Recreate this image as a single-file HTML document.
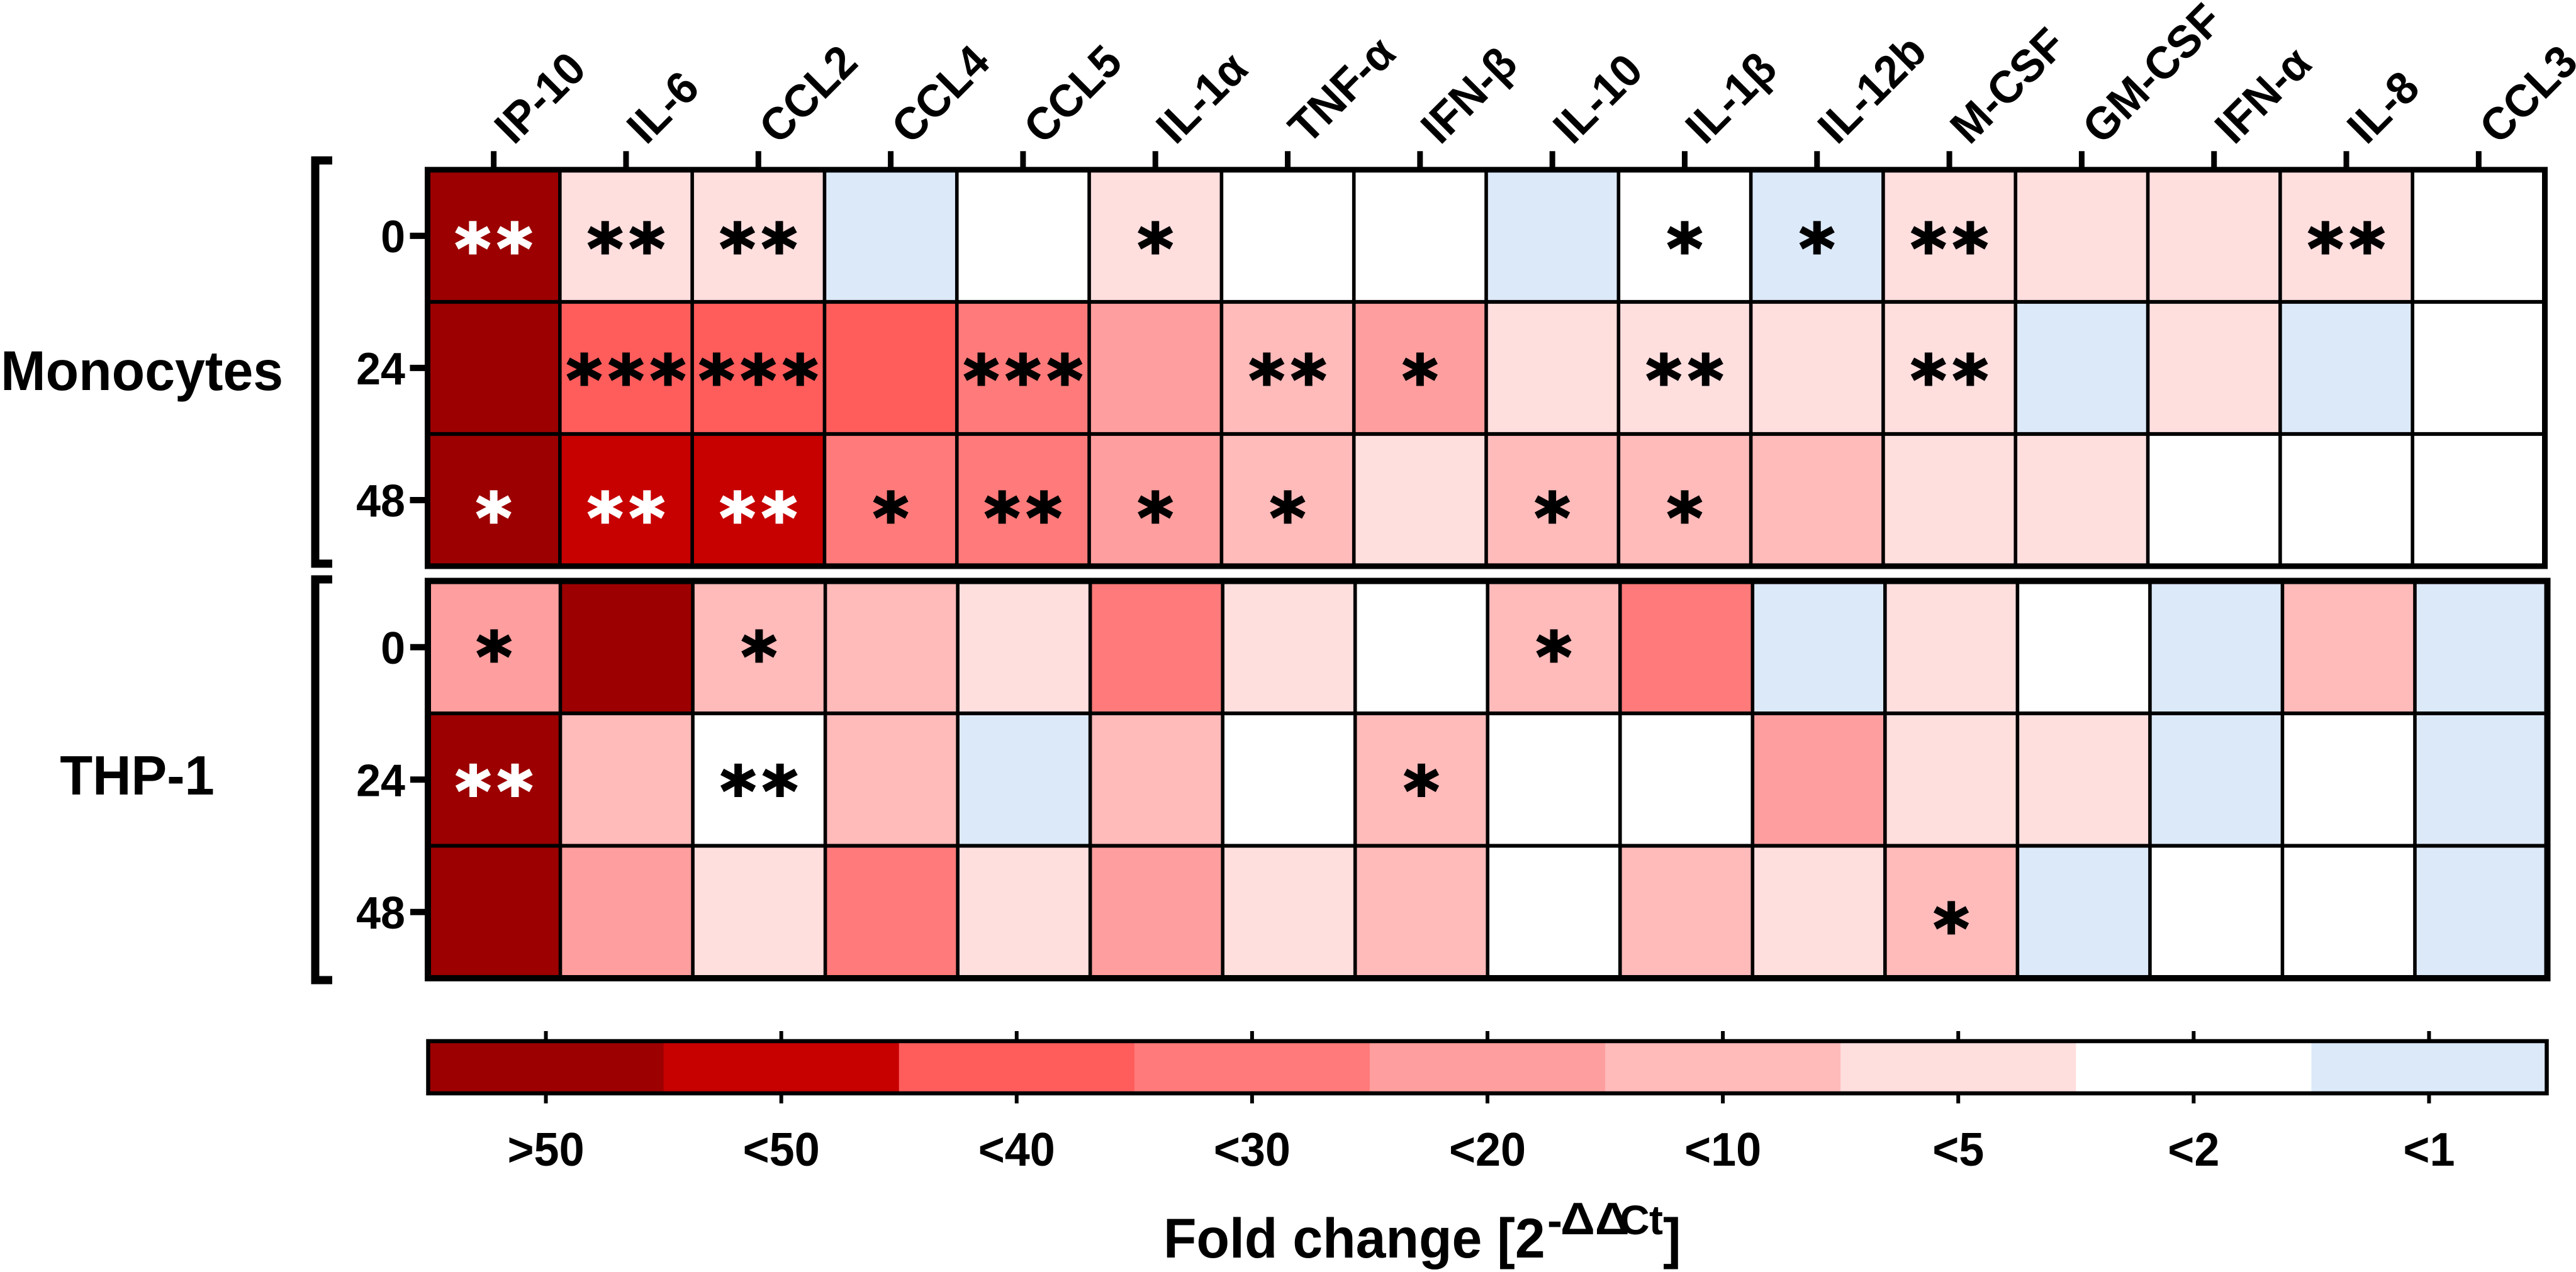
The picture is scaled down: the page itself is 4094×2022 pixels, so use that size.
<!DOCTYPE html>
<html>
<head>
<meta charset="utf-8">
<title>Fold change heatmap</title>
<style>
html,body{margin:0;padding:0;background:#fff;}
svg{display:block;}
text{font-family:"Liberation Sans",sans-serif;font-weight:bold;fill:#000;}
.star{font-family:"DejaVu Sans",sans-serif;font-weight:bold;stroke-width:3;letter-spacing:10px;}
</style>
</head>
<body>
<svg id="chart" xmlns="http://www.w3.org/2000/svg" width="4094" height="2022" viewBox="0 0 4094 2022">
  <rect x="0" y="0" width="4094" height="2022" fill="#ffffff"/>
  <text transform="translate(1 620) scale(1 1.04)" font-size="86">Monocytes</text>
  <text transform="translate(218 1263) scale(1 1.04)" font-size="85" text-anchor="middle">THP-1</text>
  <path d="M528 255H501V896H528" fill="none" stroke="#000" stroke-width="13"/>
  <path d="M528 921H501V1558H528" fill="none" stroke="#000" stroke-width="13"/>
  <g>
    <text transform="translate(1849 1999) scale(1 1.04)" font-size="86">Fold change [2</text>
    <text x="2459" y="1965" font-size="72">-</text>
    <text transform="translate(2480 1962) scale(1.06 1)" font-size="72">ΔΔ</text>
    <text x="2574" y="1962" font-size="66">C</text>
    <text x="2621" y="1962" font-size="66">t</text>
    <text transform="translate(2643 1999) scale(1 1.04)" font-size="86">]</text>
  </g>
  <g id="layer"></g>
</svg>
<script>
const genes = ["IP-10","IL-6","CCL2","CCL4","CCL5","IL-1α","TNF-α","IFN-β","IL-10","IL-1β","IL-12b","M-CSF","GM-CSF","IFN-α","IL-8","CCL3"];
const timepoints = ["0","24","48"];
const foldLabels = [">50","<50","<40","<30","<20","<10","<5","<2","<1"];
const foldColors = ["#9c0000","#c70000","#ff5c5c","#ff7a7a","#ff9e9e","#ffbaba","#ffdede","#ffffff","#dce9f9"];

const monocyteLevels = [
  [0,6,6,8,7,6,7,7,8,7,8,6,6,6,6,7],
  [0,2,2,2,3,4,5,4,6,6,6,6,8,6,8,7],
  [0,1,1,3,3,4,5,6,5,5,5,6,6,7,7,7]
];
const monocyteStars = [
  [2,2,2,0,0,1,0,0,0,1,1,2,0,0,2,0],
  [0,3,3,0,3,0,2,1,0,2,0,2,0,0,0,0],
  [1,2,2,1,2,1,1,0,1,1,0,0,0,0,0,0]
];
const thp1Levels = [
  [4,0,5,5,6,3,6,7,5,3,8,6,7,8,5,8],
  [0,5,7,5,8,5,7,5,7,7,4,6,6,8,7,8],
  [0,4,6,3,6,4,6,5,7,5,6,5,8,7,7,8]
];
const thp1Stars = [
  [1,0,1,0,0,0,0,0,1,0,0,0,0,0,0,0],
  [2,0,2,0,0,0,0,1,0,0,0,0,0,0,0,0],
  [0,0,0,0,0,0,0,0,0,0,0,1,0,0,0,0]
];

const NS = "http://www.w3.org/2000/svg";
const layer = document.getElementById("layer");

function make(tag, attrs, parent) {
  const el = document.createElementNS(NS, tag);
  for (const k in attrs) el.setAttribute(k, attrs[k]);
  (parent || layer).appendChild(el);
  return el;
}
function bandScale(start, end, count) {
  const step = (end - start) / count;
  return { step, edge: i => start + i * step, mid: i => start + (i + 0.5) * step };
}
function tallAt(px, py) {
  return "translate(" + px + " " + py + ") scale(1 1.04)";
}

function drawPanel(name, levels, stars, box, starOffsets, withGeneLabels) {
  const group = make("g", {});
  
  
  const x = bandScale(box.x0, box.x1, genes.length);
  const y = bandScale(box.y0, box.y1, timepoints.length);

  levels.forEach((row, r) => {
    row.forEach((level, c) => {
      const cell = make("rect", { x: x.edge(c), y: y.edge(r), width: x.step, height: y.step, fill: foldColors[level] }, group);
      
      
    });
  });

  for (let c = 1; c < genes.length; c++) {
    const line = make("line", { x1: x.edge(c), x2: x.edge(c), y1: box.y0, y2: box.y1, stroke: "#000", "stroke-width": 5.6 }, group);
    
    
  }
  for (let r = 1; r < timepoints.length; r++) {
    const line = make("line", { x1: box.x0, x2: box.x1, y1: y.edge(r), y2: y.edge(r), stroke: "#000", "stroke-width": 6 }, group);
    
    
  }

  const frame = make("rect", { x: box.x0, y: box.y0, width: box.x1 - box.x0, height: box.y1 - box.y0, fill: "none", stroke: "#000", "stroke-width": box.border }, group);
  
  

  timepoints.forEach((t, r) => {
    const tick = make("line", { x1: box.x0 - 28, x2: box.x0, y1: y.mid(r), y2: y.mid(r), stroke: "#000", "stroke-width": 10 }, group);
    
    
    const label = make("text", { transform: tallAt(644, y.mid(r) + 26), "font-size": 70, "text-anchor": "end" }, group);
    label.textContent = t;
    
    
  });

  stars.forEach((row, r) => {
    row.forEach((count, c) => {
      if (!count) return;
      const ink = levels[r][c] <= 1 ? "#ffffff" : "#000000";
      const star = make("text", { class: "star", x: x.mid(c) + 5, y: y.mid(r) + starOffsets[r] + 55, "font-size": 108, "text-anchor": "middle" }, group);
      star.style.fill = ink;
      star.style.stroke = ink;
      star.textContent = "*".repeat(count);
      
      
    });
  });

  if (withGeneLabels) {
    genes.forEach((g, c) => {
      const tick = make("line", { x1: x.mid(c), x2: x.mid(c), y1: box.y0 - 29.5, y2: box.y0, stroke: "#000", "stroke-width": 9 }, group);
      
      
      const px = x.mid(c) + 32;
      const label = make("text", { transform: "translate(" + px + " 232) rotate(-45) scale(1 1.04)", "font-size": 70 }, group);
      label.textContent = g;
      
      
    });
  }
}

drawPanel("monocytes", monocyteLevels, monocyteStars, { x0: 679.5, x1: 4044.5, y0: 269.8, y1: 900, border: 9 }, [3, 2, 11], true);
drawPanel("thp1", thp1Levels, thp1Stars, { x0: 680, x1: 4048.5, y0: 923.5, y1: 1555, border: 10 }, [-2, 1, 9], false);

function drawColorbar() {
  const group = make("g", {});
  
  
  const top = 1655, bottom = 1738;
  const x = bandScale(680.5, 4047.5, foldLabels.length);
  foldLabels.forEach((lab, i) => {
    const seg = make("rect", { x: x.edge(i), y: top, width: x.step + (i < foldLabels.length - 1 ? 0.5 : 0), height: bottom - top, fill: foldColors[i] }, group);
    
    
    const up = make("line", { x1: x.mid(i), x2: x.mid(i), y1: 1639, y2: top, stroke: "#000", "stroke-width": 6 }, group);
    
    
    const down = make("line", { x1: x.mid(i), x2: x.mid(i), y1: bottom, y2: 1754, stroke: "#000", "stroke-width": 6 }, group);
    
    
    const label = make("text", { transform: tallAt(x.mid(i), 1853), "font-size": 72, "text-anchor": "middle" }, group);
    label.textContent = lab;
    
    
  });
  const frame = make("rect", { x: 680.5, y: top, width: 3367, height: bottom - top, fill: "none", stroke: "#000", "stroke-width": 6.5 }, group);
  
  
}
drawColorbar();
</script>
</body>
</html>
